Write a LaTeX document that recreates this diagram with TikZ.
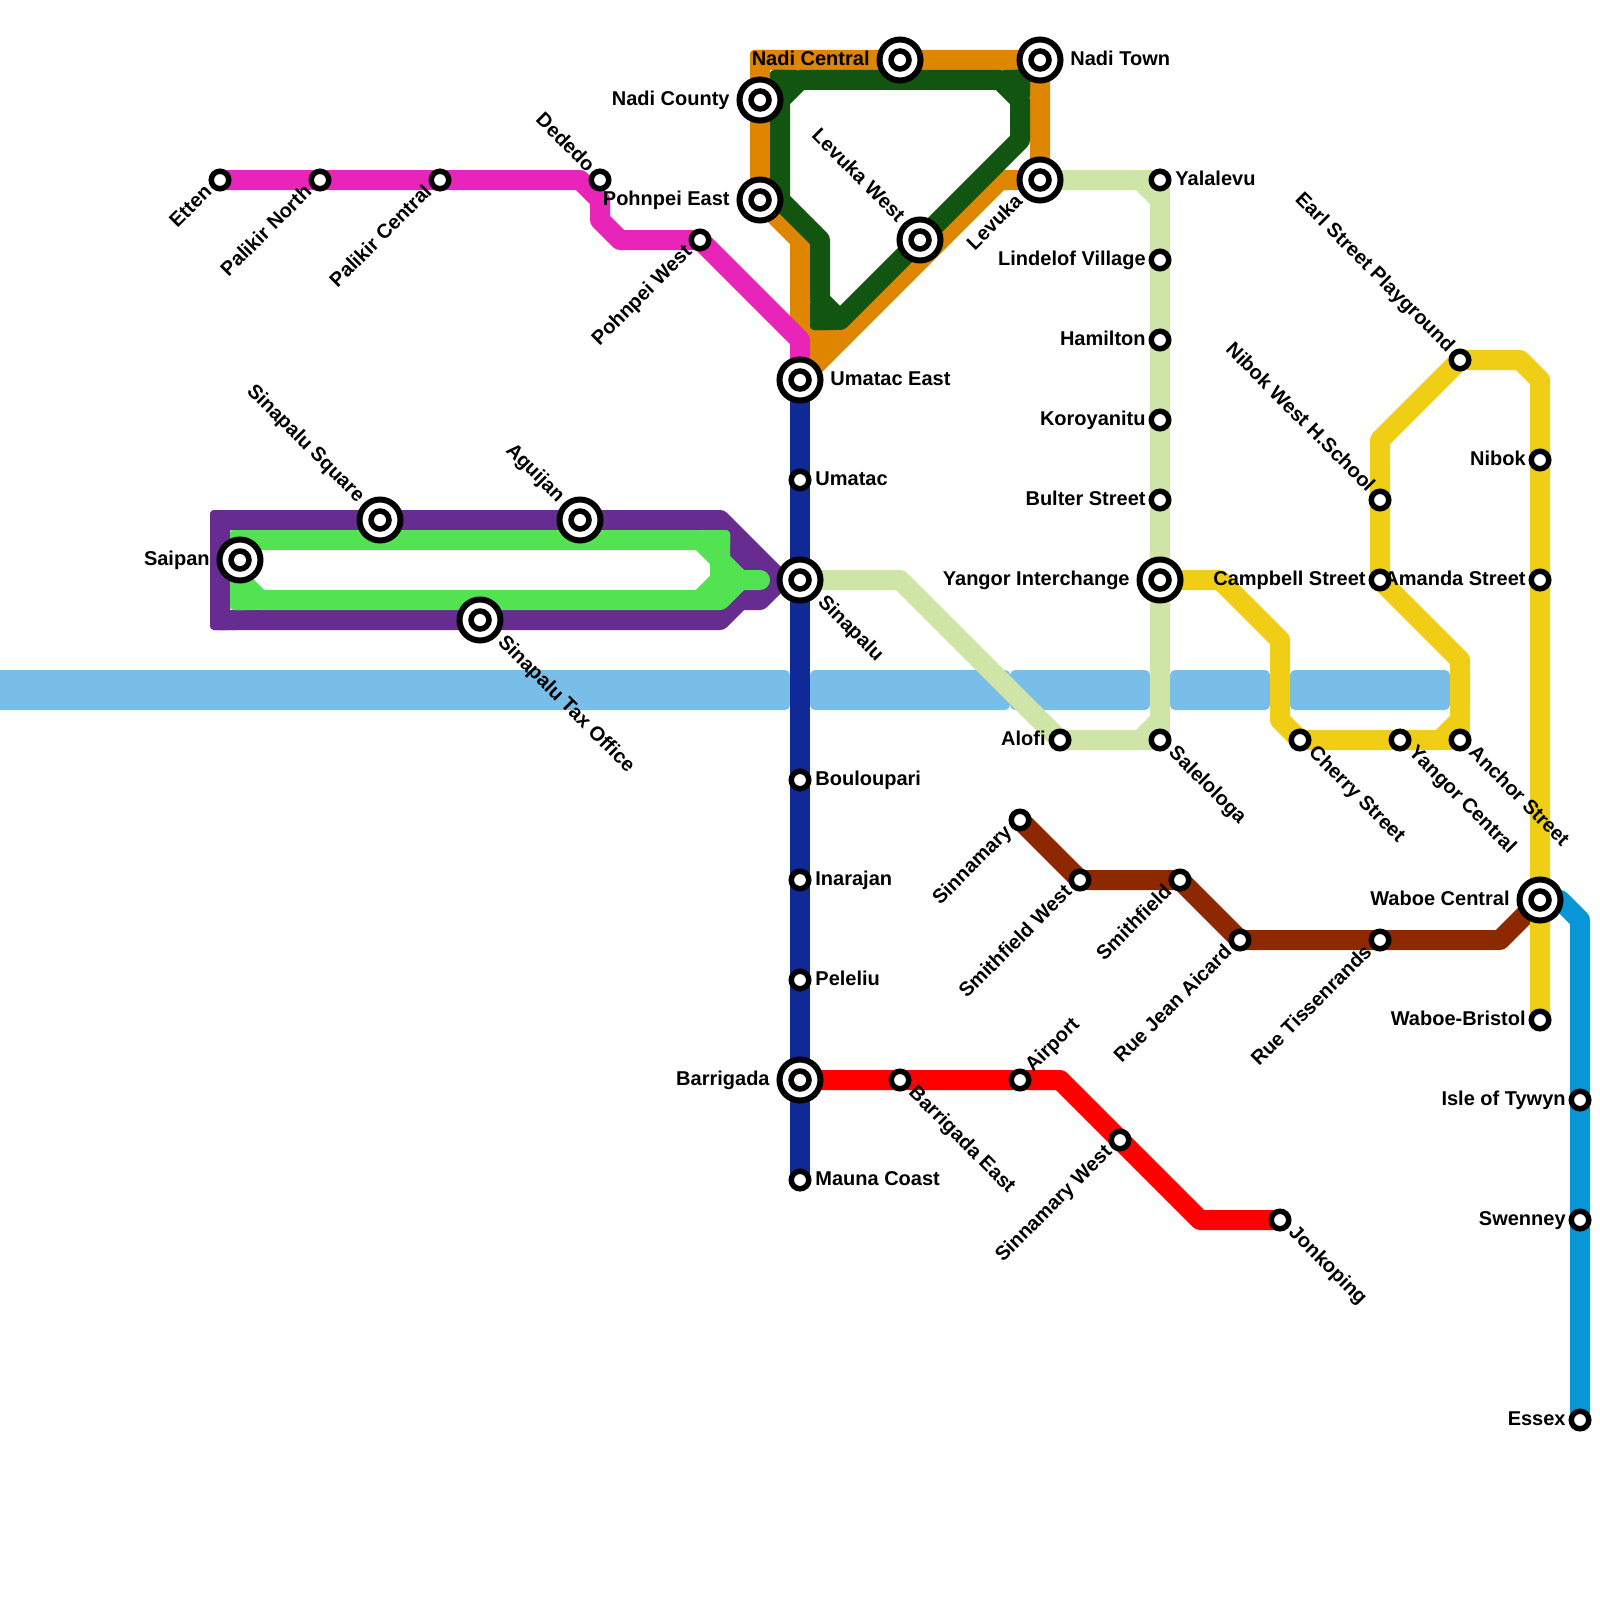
\documentclass[tikz,border=0pt]{standalone}
\usepackage{fontspec}
\setmainfont{Liberation Sans}
\pgfdeclarelayer{lines}
\pgfsetlayers{lines,main}
\definecolor{cOrange}{HTML}{DF8600}
\definecolor{cDkGreen}{HTML}{115511}
\definecolor{cPurple}{HTML}{662C90}
\definecolor{cLime}{HTML}{53E252}
\definecolor{cMagenta}{HTML}{E925B9}
\definecolor{cNavy}{HTML}{0F2A96}
\definecolor{cPale}{HTML}{CFE4A7}
\definecolor{cYellow}{HTML}{F0CE15}
\definecolor{cSky}{HTML}{79BDE9}
\definecolor{cBrown}{HTML}{8E2800}
\definecolor{cBlue}{HTML}{0896D7}
\definecolor{cRed}{HTML}{FF0000}
\tikzset{
  x=0.5pt,y=-0.5pt,
  small/.style={circle,draw=black,fill=white,inner sep=0pt,outer sep=0pt,minimum size=8.75pt,line width=2.75pt},
  inter/.style={circle,draw=black,fill=white,inner sep=0pt,outer sep=0pt,minimum size=20.5pt,line width=3pt,
    path picture={\fill[black] (path picture bounding box.center) circle (5.9pt);
                  \fill[white] (path picture bounding box.center) circle (3pt);}},
  lbl/.style={font=\bfseries\fontsize{10}{12}\selectfont,inner sep=0pt,text height=7.2pt,text depth=0pt},
  E/.style={lbl,anchor=west,shift={(15,-2)}},
  W/.style={lbl,anchor=east,shift={(-14,-2)}},
  IE/.style={lbl,anchor=west,shift={(30,-2)}},
  IW/.style={lbl,anchor=east,shift={(-30,-2)}},
  SW/.style={lbl,anchor=east,rotate=45,shift={(-14,-3)}},
  SE/.style={lbl,anchor=west,rotate=-45,shift={(15,-3)}},
  NW/.style={lbl,anchor=east,rotate=-45,shift={(-14,-3)}},
  NE/.style={lbl,anchor=west,rotate=45,shift={(14,-3)}},
  ISW/.style={lbl,anchor=east,rotate=45,shift={(-27,-3)}},
  ISE/.style={lbl,anchor=west,rotate=-45,shift={(28,-3)}},
  INW/.style={lbl,anchor=east,rotate=-45,shift={(-28,-3)}},
  track/.style={line width=10pt,line cap=round,line join=round},
  bar/.style={fill=cSky,rounded corners=2.5pt},
}
\newcommand{\stn}[6]{\node[#1] (#2) at (#3,#4) {}; \node[#5] (#2-l) at (#3,#4) {#6};}
\newcommand{\corn}[5]{%
  \fill[#1,rounded corners=2pt] (#2-10*#4,#3-10) rectangle (#2+20*#4,#3+10);
  \fill[#1,rounded corners=2pt] (#2-10,#3-10*#5) rectangle (#2+10,#3+20*#5);}
\begin{document}
\begin{tikzpicture}
\useasboundingbox (0,0) rectangle (1600,1600);
% magenta
\stn{small}{etten}{220}{180}{SW}{Etten}
\stn{small}{palikirnorth}{320}{180}{SW}{Palikir North}
\stn{small}{palikircentral}{440}{180}{SW}{Palikir Central}
\stn{small}{dededo}{600}{180}{NW}{Dededo}
\stn{small}{pohnpeiwest}{700}{240}{SW}{Pohnpei West}
% orange / green
\stn{inter}{nadicentral}{900}{60}{IW}{Nadi Central}
\stn{inter}{naditown}{1040}{60}{IE}{Nadi Town}
\stn{inter}{nadicounty}{760}{100}{IW}{Nadi County}
\stn{inter}{pohnpeieast}{760}{200}{IW}{Pohnpei East}
\stn{inter}{levuka}{1040}{180}{ISW}{Levuka}
\stn{inter}{levukawest}{920}{240}{INW}{Levuka West}
\stn{inter}{umataceast}{800}{380}{IE}{Umatac East}
% purple / lime
\stn{inter}{saipan}{240}{560}{IW}{Saipan}
\stn{inter}{sinapalusquare}{380}{520}{INW}{Sinapalu Square}
\stn{inter}{aguijan}{580}{520}{INW}{Aguijan}
\stn{inter}{sinapalutax}{480}{620}{ISE}{Sinapalu Tax Office}
\stn{inter}{sinapalu}{800}{580}{ISE}{Sinapalu}
% navy
\stn{small}{umatac}{800}{480}{E}{Umatac}
\stn{small}{bouloupari}{800}{780}{E}{Bouloupari}
\stn{small}{inarajan}{800}{880}{E}{Inarajan}
\stn{small}{peleliu}{800}{980}{E}{Peleliu}
\stn{inter}{barrigada}{800}{1080}{IW}{Barrigada}
\stn{small}{maunacoast}{800}{1180}{E}{Mauna Coast}
% pale green
\stn{small}{yalalevu}{1160}{180}{E}{Yalalevu}
\stn{small}{lindelof}{1160}{260}{W}{Lindelof Village}
\stn{small}{hamilton}{1160}{340}{W}{Hamilton}
\stn{small}{koroyanitu}{1160}{420}{W}{Koroyanitu}
\stn{small}{bulter}{1160}{500}{W}{Bulter Street}
\stn{inter}{yangorint}{1160}{580}{IW}{Yangor Interchange}
\stn{small}{saleloga}{1160}{740}{SE}{Salelologa}
\stn{small}{alofi}{1060}{740}{W}{Alofi}
% yellow
\stn{small}{cherry}{1300}{740}{SE}{Cherry Street}
\stn{small}{yangorcentral}{1400}{740}{SE}{Yangor Central}
\stn{small}{anchor}{1460}{740}{SE}{Anchor Street}
\stn{small}{campbell}{1380}{580}{W}{Campbell Street}
\stn{small}{nibokwest}{1380}{500}{NW}{Nibok West H.School}
\stn{small}{earl}{1460}{360}{NW}{Earl Street Playground}
\stn{small}{nibok}{1540}{460}{W}{Nibok}
\stn{small}{amanda}{1540}{580}{W}{Amanda Street}
\stn{inter}{waboecentral}{1540}{900}{IW}{Waboe Central}
\stn{small}{waboebristol}{1540}{1020}{W}{Waboe-Bristol}
% brown
\stn{small}{sinnamary}{1020}{820}{SW}{Sinnamary}
\stn{small}{smithfieldwest}{1080}{880}{SW}{Smithfield West}
\stn{small}{smithfield}{1180}{880}{SW}{Smithfield}
\stn{small}{ruejean}{1240}{940}{SW}{Rue Jean Aicard}
\stn{small}{ruetiss}{1380}{940}{SW}{Rue Tissenrands}
% blue
\stn{small}{isle}{1580}{1100}{W}{Isle of Tywyn}
\stn{small}{swenney}{1580}{1220}{W}{Swenney}
\stn{small}{essex}{1580}{1420}{W}{Essex}
% red
\stn{small}{barrigadaeast}{900}{1080}{SE}{Barrigada East}
\stn{small}{airport}{1020}{1080}{NE}{Airport}
\stn{small}{sinnamarywest}{1120}{1140}{SW}{Sinnamary West}
\stn{small}{jonkoping}{1280}{1220}{SE}{Jonkoping}

\begin{pgfonlayer}{lines}
% water bars
\fill[bar] (-20,670) rectangle (790,710);
\fill[bar] (810,670) rectangle (1010,710);
\fill[bar] (1010,670) rectangle (1150,710);
\fill[bar] (1170,670) rectangle (1270,710);
\fill[bar] (1290,670) rectangle (1450,710);
% brown
\draw[track,cBrown] (sinnamary.center) -- (smithfieldwest.center) -- (smithfield.center) -- (ruejean.center) -- (ruetiss.center) -- (1500,940) -- (waboecentral.center);
% blue
\draw[track,cBlue] (waboecentral.center) -- (1560,900) -- (1580,920) -- (isle.center) -- (swenney.center) -- (essex.center);
% yellow
\draw[track,cYellow] (yangorint.center) -- (1220,580) -- (1280,640) -- (1280,720) -- (cherry.center) -- (yangorcentral.center) -- (1440,740) -- (1460,720) -- (1460,660) -- (campbell.center) -- (nibokwest.center) -- (1380,440) -- (earl.center) -- (1520,360) -- (1540,380) -- (nibok.center) -- (amanda.center) -- (waboecentral.center) -- (waboebristol.center);
\draw[track,cYellow] (yangorcentral.center) -- (anchor.center) -- (1460,720);
% pale green
\draw[track,cPale] (levuka.center) -- (1140,180) -- (1160,200) -- (lindelof.center) -- (hamilton.center) -- (koroyanitu.center) -- (bulter.center) -- (yangorint.center) -- (1160,720) -- (1140,740) -- (alofi.center) -- (900,580) -- (sinapalu.center);
\draw[track,cPale] (1140,180) -- (yalalevu.center) -- (1160,200);
\draw[track,cPale] (1140,740) -- (saleloga.center) -- (1160,720);
% navy
\draw[track,cNavy] (umataceast.center) -- (umatac.center) -- (sinapalu.center) -- (bouloupari.center) -- (inarajan.center) -- (peleliu.center) -- (barrigada.center) -- (maunacoast.center);
% red
\draw[track,cRed] (barrigada.center) -- (barrigadaeast.center) -- (airport.center) -- (1060,1080) -- (sinnamarywest.center) -- (1200,1220) -- (jonkoping.center);
% orange
\fill[cOrange] (800,325) -- (850,330) -- (800,380) -- cycle;
\draw[track,cOrange] (nadicentral.center) -- (naditown.center) -- (levuka.center) -- (1000,180) -- (umataceast.center);
\draw[track,cOrange] (nadicentral.center) -- (760,60) -- (nadicounty.center) -- (pohnpeieast.center) -- (800,240) -- (800,320) -- (820,340) -- (840,340);
\draw[track,cOrange] (800,320) -- (umataceast.center);
\corn{cOrange}{760}{60}{1}{1}
\corn{cOrange}{1040}{60}{-1}{1}
% dark green
\draw[track,cDkGreen] (800,80) -- (1000,80) -- (1020,100) -- (1020,140) -- (levukawest.center) -- (840,320) -- (820,300) -- (820,240) -- (780,200) -- (780,100) -- cycle;
\corn{cDkGreen}{780}{80}{1}{1}
\corn{cDkGreen}{1020}{80}{-1}{1}
\corn{cDkGreen}{820}{320}{1}{-1}
% magenta
\draw[track,cMagenta] (etten.center) -- (palikirnorth.center) -- (palikircentral.center) -- (580,180) -- (600,200) -- (600,220) -- (620,240) -- (pohnpeiwest.center) -- (800,340) -- (umataceast.center);
% purple
\fill[cPurple] (720,520) -- (785,585) -- (740,600) -- (720,610) -- cycle;
\draw[track,cPurple] (220,520) -- (sinapalusquare.center) -- (aguijan.center) -- (720,520) -- (780,580) -- (sinapalu.center);
\draw[track,cPurple] (220,520) -- (220,620) -- (sinapalutax.center) -- (720,620) -- (740,600) -- (760,600) -- (780,580);
\corn{cPurple}{220}{520}{1}{1}
\corn{cPurple}{220}{620}{1}{-1}
% lime
\draw[track,cLime] (saipan.center) -- (240,580) -- (260,600) -- (720,600) -- (740,580) -- (760,580);
\draw[track,cLime] (saipan.center) -- (240,540) -- (700,540) -- (720,560) -- (740,580);
\draw[track,cLime] (720,560) -- (720,580) -- (700,600);
\corn{cLime}{240}{540}{1}{1}
\corn{cLime}{240}{600}{1}{-1}
\corn{cLime}{720}{540}{-1}{1}
\end{pgfonlayer}
\end{tikzpicture}
\end{document}
